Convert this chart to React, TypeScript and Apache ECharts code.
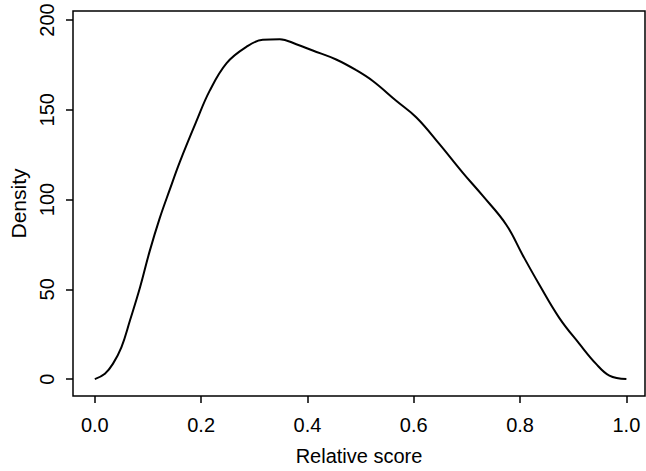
import React, { useEffect, useRef } from "react";
import * as echarts from "echarts";

const xValues = [0, 0.019, 0.034, 0.05, 0.066, 0.085, 0.103, 0.122, 0.141, 0.16, 0.191, 0.216, 0.248, 0.285, 0.316, 0.348, 0.379, 0.41, 0.454, 0.492, 0.523, 0.567, 0.605, 0.648, 0.692, 0.73, 0.774, 0.805, 0.836, 0.874, 0.912, 0.943, 0.968, 1.0];
const densityValues = [0, 3, 8.5, 17.7, 32.5, 51, 71, 89.5, 105.5, 121, 143.5, 160.5, 176, 185, 189, 189.3, 186.5, 183, 178, 172, 166, 155, 145.7, 131, 115, 102, 86, 69, 52.7, 34, 19.5, 8.5, 2, 0];
const xTicks = [0, 0.2, 0.4, 0.6, 0.8, 1.0];
const yTicks = [0, 50, 100, 150, 200];

const FONT = "'Liberation Sans', Arial, Helvetica, sans-serif";

export default function App() {
  const ref = useRef<HTMLDivElement>(null);
  useEffect(() => {
    if (!ref.current) return;
    const chart = echarts.init(ref.current, undefined, { renderer: "svg" });
    const data = xValues.map((x, i) => [x, densityValues[i]]);
    chart.setOption({
      animation: false,
      backgroundColor: "#fff",
      textStyle: { fontFamily: FONT, color: "#000" },
      grid: {
        show: true,
        left: 73,
        top: 11,
        right: 1,
        bottom: 72,
        borderColor: "#000",
        borderWidth: 1.5,
        backgroundColor: "transparent",
      },
      xAxis: {
        type: "value",
        min: -0.041,
        max: 1.035,
        name: "Relative score",
        nameLocation: "middle",
        nameGap: 50,
        nameTextStyle: { fontSize: 20, color: "#000", fontFamily: FONT },
        axisLine: { show: false, onZero: false },
        splitLine: { show: false },
        axisTick: {
          show: true,
          inside: false,
          length: 7,
          customValues: xTicks,
          lineStyle: { color: "#000", width: 1.5 },
        },
        axisLabel: {
          customValues: xTicks,
          margin: 19,
          fontSize: 20,
          color: "#000",
          fontFamily: FONT,
          formatter: (v: number) => v.toFixed(1),
        },
      },
      yAxis: {
        type: "value",
        min: -9.4,
        max: 205,
        name: "Density",
        nameLocation: "middle",
        nameGap: 43,
        nameTextStyle: { fontSize: 21, color: "#000", fontFamily: FONT },
        axisLine: { show: false, onZero: false },
        splitLine: { show: false },
        axisTick: {
          show: true,
          inside: false,
          length: 7,
          customValues: yTicks,
          lineStyle: { color: "#000", width: 1.5 },
        },
        axisLabel: {
          customValues: yTicks,
          rotate: 90,
          margin: 16,
          fontSize: 20,
          color: "#000",
          fontFamily: FONT,
        },
      },
      series: [
        {
          type: "line",
          data,
          smooth: 0.4,
          showSymbol: false,
          lineStyle: { color: "#000", width: 2 },
        },
      ],
    });
    return () => chart.dispose();
  }, []);
  return (
    <div
      ref={ref}
      style={{ position: "fixed", left: 0, top: 0, width: 646, height: 471, background: "#fff" }}
    />
  );
}
